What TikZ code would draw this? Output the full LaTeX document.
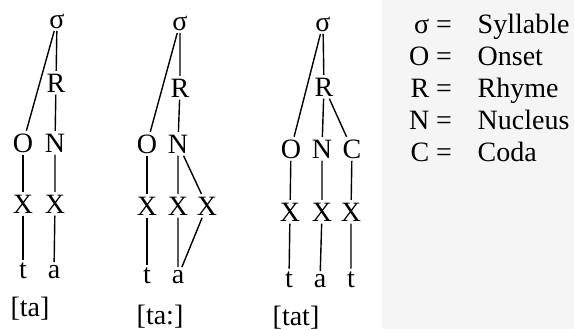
\documentclass[tikz,border=0pt]{standalone}
\usepackage{fontspec}
\setmainfont{Liberation Serif}
\begin{document}
\begin{tikzpicture}[x=0.5pt, y=-0.5pt, line width=0.7pt,
    every node/.style={inner sep=1pt, anchor=base, font=\fontsize{14}{16}\selectfont}]
    \useasboundingbox (0,0) rectangle (574,329);
    % Legend panel
    \fill[black!4] (382,0) rectangle (574,329);

    % Tree for [ta]
    \node (s1) at (57,28) {σ};
    \node (r1) at (56,92) {R};
    \node (o1) at (23,152) {O};
    \node (n1) at (55,152) {N};
    \node (xa1) at (23,213) {X};
    \node (xb1) at (55,213) {X};
    \node (t1) at (23,278) {t};
    \node (a1) at (54,278) {a};
    \node (w1) at (30,316) {[ta]};
    \draw (s1) -- (o1);
    \draw (s1) -- (r1) -- (n1) -- (xb1) -- (a1);
    \draw (o1) -- (xa1) -- (t1);

    % Tree for [ta:]
    \node (s2) at (180,30) {σ};
    \node (r2) at (180,97) {R};
    \node (o2) at (147,153) {O};
    \node (n2) at (178,153) {N};
    \node (xa2) at (147,215) {X};
    \node (xb2) at (178,215) {X};
    \node (xc2) at (207,215) {X};
    \node (t2) at (147,283) {t};
    \node (a2) at (178,283) {a};
    \node (w2) at (160,324) {[ta:]};
    \draw (s2) -- (o2);
    \draw (s2) -- (r2) -- (n2) -- (xb2) -- (a2);
    \draw (o2) -- (xa2) -- (t2);
    \draw (n2) -- (xc2) -- (a2);

    % Tree for [tat]
    \node (s3) at (323,31) {σ};
    \node (r3) at (324,96) {R};
    \node (o3) at (291,158) {O};
    \node (n3) at (322,158) {N};
    \node (c3) at (352,158) {C};
    \node (xa3) at (290,221) {X};
    \node (xb3) at (322,221) {X};
    \node (xc3) at (351,221) {X};
    \node (t3) at (289,287) {t};
    \node (a3) at (320,287) {a};
    \node (u3) at (351,287) {t};
    \node (w3) at (296,325) {[tat]};
    \draw (s3) -- (o3);
    \draw (s3) -- (r3) -- (n3) -- (xb3) -- (a3);
    \draw (r3) -- (c3) -- (xc3) -- (u3);
    \draw (o3) -- (xa3) -- (t3);

    % Legend
    \foreach \sym/\word [count=\i] in {σ/Syllable, O/Onset, R/Rhyme, N/Nucleus, C/Coda} {
        \node[anchor=base east] (sym\i) at (432,33+32*\i-32) {\sym};
        \node (eq\i) at (444,33+32*\i-32) {=};
        \node[anchor=base west] (word\i) at (475,33+32*\i-32) {\word};
    }
\end{tikzpicture}
\end{document}
